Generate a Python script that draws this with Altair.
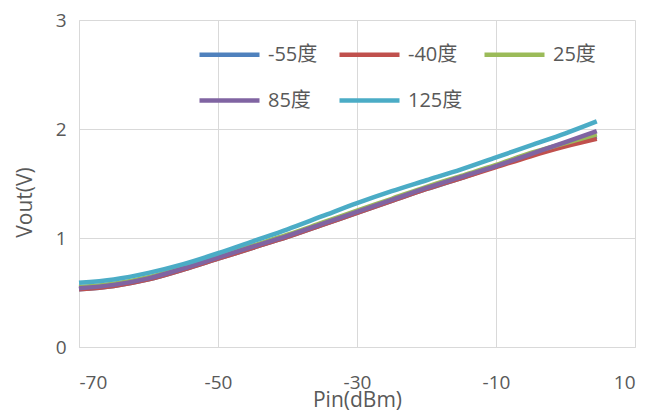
import altair as alt
import pandas as pd

pin = [-70, -65, -60, -55, -50, -45, -40, -35, -30, -25, -20, -15, -10, -5, 0, 4.5]
series_names = ["-55度", "-40度", "25度", "85度", "125度"]
v_m55 = [0.53, 0.56, 0.62, 0.71, 0.81, 0.91, 1.01, 1.12, 1.23, 1.34, 1.45, 1.55, 1.66, 1.76, 1.86, 1.93]
v_m40 = [0.53, 0.56, 0.62, 0.71, 0.81, 0.91, 1.01, 1.12, 1.23, 1.34, 1.45, 1.55, 1.65, 1.75, 1.84, 1.91]
v_25 = [0.55, 0.58, 0.64, 0.73, 0.83, 0.93, 1.03, 1.14, 1.25, 1.36, 1.47, 1.57, 1.67, 1.78, 1.87, 1.95]
v_85 = [0.54, 0.57, 0.63, 0.72, 0.82, 0.92, 1.02, 1.13, 1.24, 1.35, 1.46, 1.56, 1.66, 1.77, 1.88, 1.98]
v_125 = [0.59, 0.62, 0.68, 0.76, 0.86, 0.97, 1.08, 1.20, 1.32, 1.43, 1.53, 1.63, 1.74, 1.85, 1.96, 2.07]
colors = ["#4F81BD", "#C0504D", "#9BBB59", "#8064A2", "#4BACC6"]

rows = []
for name, vals in zip(series_names, [v_m55, v_m40, v_25, v_85, v_125]):
    for x, y in zip(pin, vals):
        rows.append({"Pin": x, "Vout": y, "series": name, "order": series_names.index(name)})
df = pd.DataFrame(rows)

FONT = "Open Sans, Noto Sans CJK SC, sans-serif"
GRID = "#D9D9D9"
TXT = "#595959"

chart = alt.Chart(df).mark_line(strokeWidth=4.5, interpolate="monotone").encode(
    x=alt.X("Pin:Q", scale=alt.Scale(domain=[-70, 10], nice=False),
            axis=alt.Axis(values=[-70, -50, -30, -10, 10], title="Pin(dBm)",
                          labelExpr="'' + datum.value",
                          grid=True, gridColor=GRID, domainColor=GRID, ticks=False,
                          labelPadding=26, labelFontSize=19, labelColor=TXT, labelFont=FONT,
                          titleFontSize=21, titleFont=FONT, titleColor=TXT, titleFontWeight="normal",
                          titlePadding=-3)),
    y=alt.Y("Vout:Q", scale=alt.Scale(domain=[0, 3], nice=False),
            axis=alt.Axis(values=[0, 1, 2, 3], title="Vout(V)",
                          grid=True, gridColor=GRID, domainColor=GRID, ticks=False,
                          labelPadding=13, labelFontSize=19, labelColor=TXT, labelFont=FONT,
                          titleFontSize=21, titleFont=FONT, titleColor=TXT, titleFontWeight="normal",
                          titleX=-44, titleY=182)),
    color=alt.Color("series:N", sort=series_names,
                    scale=alt.Scale(domain=series_names, range=colors),
                    legend=alt.Legend(title=None, orient="none", legendX=118, legendY=2,
                                      direction="horizontal",
                                      columns=3, columnPadding=12, rowPadding=3,
                                      symbolType="M-1,0H1", symbolSize=3600, symbolStrokeWidth=4.5,
                                      labelFontSize=20, labelFont=FONT, labelColor=TXT,
                                      labelOffset=6)),
    order=alt.Order("order:Q"),
).properties(
    width=556, height=327,
    autosize=alt.AutoSizeParams(type="none"),
    padding={"left": 71, "top": 12, "right": 8, "bottom": 64},
).configure_view(stroke=None)

chart.save("out.html", embed_options={"renderer": "svg", "actions": False})
